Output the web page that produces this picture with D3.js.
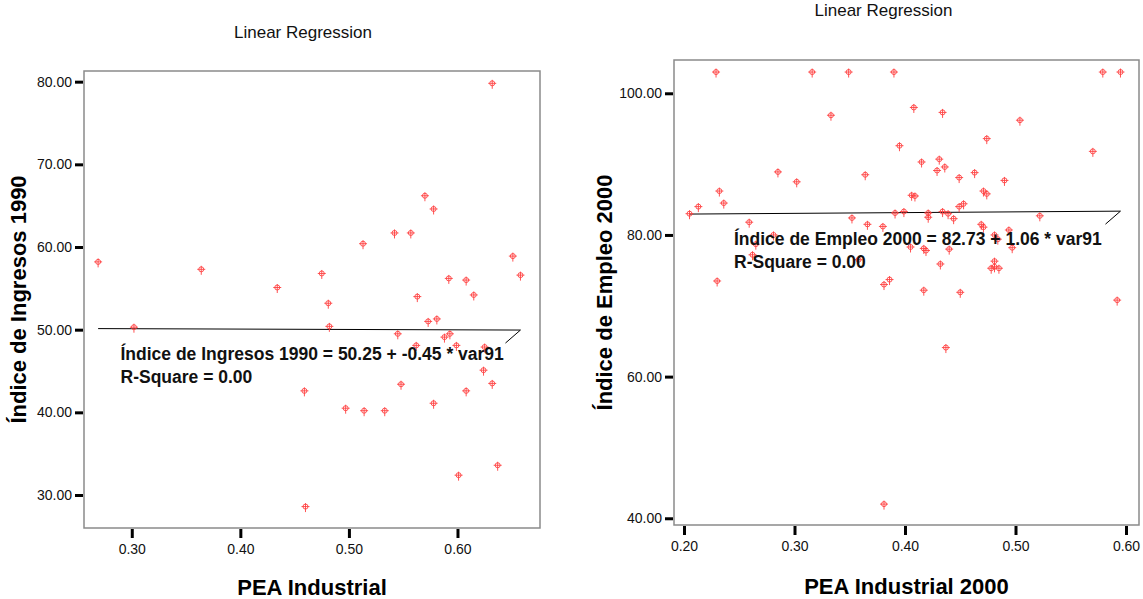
<!DOCTYPE html>
<html>
<head>
<meta charset="utf-8">
<script src="https://cdn.jsdelivr.net/npm/d3@7"></script>
<style>
  html, body { margin: 0; padding: 0; background: #fff; }
  svg { display: block; }
  text { font-family: "Liberation Sans", Arial, sans-serif; }
</style>
</head>
<body>
<svg id="chart" width="1143" height="599"></svg>
<script>
// ---- Panel 1: Índice de Ingresos 1990 vs PEA Industrial ----
const ingresosX = [0.269, 0.302, 0.364, 0.434, 0.459, 0.460, 0.475, 0.481, 0.482, 0.497,
                   0.513, 0.514, 0.533, 0.542, 0.545, 0.548, 0.557, 0.562, 0.563, 0.570,
                   0.573, 0.578, 0.578, 0.581, 0.588, 0.592, 0.593, 0.599, 0.601, 0.608,
                   0.608, 0.615, 0.624, 0.625, 0.632, 0.632, 0.637, 0.651, 0.658];
const ingresosY = [58.2, 50.3, 57.3, 55.1, 42.6, 28.6, 56.8, 53.2, 50.4, 40.5,
                   60.4, 40.2, 40.2, 61.7, 49.5, 43.4, 61.7, 48.1, 54.0, 66.2,
                   51.0, 64.6, 41.1, 51.3, 49.1, 56.2, 49.5, 48.1, 32.4, 56.0,
                   42.6, 54.2, 45.1, 47.9, 79.8, 43.5, 33.6, 58.9, 56.6];
const ingresosXTicks = [0.30, 0.40, 0.50, 0.60];
const ingresosYTicks = [30, 40, 50, 60, 70, 80];
const ingresosFit = { intercept: 50.25, slope: -0.45 };

// ---- Panel 2: Índice de Empleo 2000 vs PEA Industrial 2000 ----
const empleoX = [0.205, 0.213, 0.229, 0.230, 0.232, 0.236, 0.259, 0.262, 0.265, 0.281,
                 0.285, 0.302, 0.316, 0.333, 0.349, 0.352, 0.358, 0.364, 0.366, 0.380,
                 0.381, 0.381, 0.386, 0.390, 0.391, 0.395, 0.399, 0.405, 0.406, 0.408,
                 0.409, 0.415, 0.417, 0.417, 0.419, 0.421, 0.421, 0.429, 0.431, 0.432,
                 0.434, 0.434, 0.436, 0.437, 0.439, 0.440, 0.444, 0.449, 0.449, 0.450,
                 0.453, 0.463, 0.469, 0.471, 0.471, 0.474, 0.474, 0.478, 0.481, 0.481,
                 0.481, 0.484, 0.485, 0.490, 0.494, 0.497, 0.504, 0.522, 0.570, 0.579,
                 0.592, 0.595];
const empleoY = [83.0, 84.0, 103.0, 73.5, 86.2, 84.5, 81.8, 77.2, 78.7, 80.0,
                 88.9, 87.5, 103.0, 96.9, 103.0, 82.4, 76.5, 88.5, 81.5, 81.2,
                 73.0, 42.0, 73.7, 103.0, 83.1, 92.6, 83.3, 78.3, 85.6, 98.0,
                 85.5, 90.3, 78.1, 72.2, 77.8, 83.1, 82.5, 89.1, 90.7, 75.9,
                 97.3, 83.3, 89.6, 64.1, 83.0, 78.0, 82.3, 88.1, 84.0, 71.9,
                 84.4, 88.8, 81.5, 86.2, 81.1, 93.6, 85.8, 75.3, 80.0, 76.3,
                 75.5, 79.4, 75.3, 87.7, 80.7, 78.2, 96.2, 82.7, 91.8, 103.0,
                 70.8, 103.0];
const empleoXTicks = [0.20, 0.30, 0.40, 0.50, 0.60];
const empleoYTicks = [40, 60, 80, 100];
const empleoFit = { intercept: 82.73, slope: 1.06 };

const svg = d3.select("#chart");
const markerColor = "#ff4040";

// SPSS-style scatter marker: small circle with a cross, stem longer below
const markerPath = "M-4,0H4M0,-3.5V5.5M2.5,0A2.5,2.5 0 1,1 -2.5,0A2.5,2.5 0 1,1 2.5,0";

function drawPanel(cfg) {
  const g = svg.append("g");
  const x = d3.scaleLinear().domain(cfg.xDomain).range([cfg.left, cfg.right]);
  const y = d3.scaleLinear().domain(cfg.yDomain).range([cfg.bottom, cfg.top]);

  // title
  g.append("text")
    .attr("x", cfg.titleX).attr("y", cfg.titleY)
    .attr("text-anchor", "middle")
    .attr("font-size", 17).attr("fill", "#111")
    .text("Linear Regression");

  // frame
  g.append("rect")
    .attr("x", cfg.left).attr("y", cfg.top)
    .attr("width", cfg.right - cfg.left).attr("height", cfg.bottom - cfg.top)
    .attr("fill", "none").attr("stroke", "#8a8a8a").attr("stroke-width", 1.5);

  // axes
  const yAxis = g.append("g")
    .attr("transform", `translate(${cfg.left - 1},0)`)
    .call(d3.axisLeft(y).tickValues(cfg.yTicks).tickSize(8).tickPadding(3).tickFormat(d3.format(".2f")));
  const xAxis = g.append("g")
    .attr("transform", `translate(0,${cfg.bottom + 1})`)
    .call(d3.axisBottom(x).tickValues(cfg.xTicks).tickSize(9).tickPadding(6).tickFormat(d3.format(".2f")));
  [xAxis, yAxis].forEach(a => {
    a.select(".domain").remove();
    a.selectAll(".tick line").attr("stroke", "#000").attr("stroke-width", 3);
    a.selectAll(".tick text").attr("fill", "#111").attr("font-size", 14)
      .attr("font-family", "'Liberation Sans', Arial, sans-serif");
  });

  // axis titles
  g.append("text")
    .attr("x", (cfg.left + cfg.right) / 2).attr("y", cfg.xTitleY)
    .attr("text-anchor", "middle").attr("font-size", 22).attr("font-weight", "bold")
    .attr("fill", "#000")
    .text(cfg.xTitle);
  g.append("text")
    .attr("transform", `translate(${cfg.yTitleX},${(cfg.top + cfg.bottom) / 2}) rotate(-90)`)
    .attr("text-anchor", "middle").attr("font-size", 22).attr("font-weight", "bold")
    .attr("fill", "#000")
    .text(cfg.yTitle);

  // fitted line over the observed x range
  const xMin = d3.min(cfg.xs), xMax = d3.max(cfg.xs);
  const fitY = v => cfg.fit.intercept + cfg.fit.slope * v;
  g.append("line")
    .attr("x1", x(xMin)).attr("y1", y(fitY(xMin)))
    .attr("x2", x(xMax)).attr("y2", y(fitY(xMax)))
    .attr("stroke", "#000").attr("stroke-width", 1);

  // leader from line end to equation label
  g.append("line")
    .attr("x1", x(xMax)).attr("y1", y(fitY(xMax)))
    .attr("x2", x(xMax) - 15).attr("y2", y(fitY(xMax)) + 13)
    .attr("stroke", "#000").attr("stroke-width", 1);

  // points
  const pts = cfg.xs.map((v, i) => [v, cfg.ys[i]]);
  g.append("g").selectAll("path").data(pts).join("path")
    .attr("transform", d => `translate(${x(d[0])},${y(d[1])})`)
    .attr("d", markerPath)
    .attr("fill", "none").attr("stroke", markerColor).attr("stroke-width", 1)
    .attr("stroke-opacity", 0.9);

  // equation label (SPSS prints a plain hyphen before negative coefficients)
  const fmt = v => v.toFixed(2);
  const eq = g.append("text")
    .attr("font-size", 17.5).attr("font-weight", "bold").attr("fill", "#111");
  eq.append("tspan").attr("x", cfg.labelX).attr("y", cfg.labelY)
    .text(`${cfg.yTitle} = ${fmt(cfg.fit.intercept)} + ${fmt(cfg.fit.slope)} * var91`);
  eq.append("tspan").attr("x", cfg.labelX).attr("y", cfg.labelY + 22.5)
    .text("R-Square = 0.00");
}

drawPanel({
  left: 84, right: 540, top: 71, bottom: 528,
  xDomain: [0.256, 0.676], yDomain: [26.01, 81.29],
  xTicks: ingresosXTicks, yTicks: ingresosYTicks,
  xs: ingresosX, ys: ingresosY, fit: ingresosFit,
  xTitle: "PEA Industrial", yTitle: "Índice de Ingresos 1990",
  titleX: 303, titleY: 38, xTitleY: 595, yTitleX: 26,
  labelX: 120.5, labelY: 360
});

drawPanel({
  left: 674, right: 1139, top: 60, bottom: 525,
  xDomain: [0.19095, 0.61176], yDomain: [39.05, 104.70],
  xTicks: empleoXTicks, yTicks: empleoYTicks,
  xs: empleoX, ys: empleoY, fit: empleoFit,
  xTitle: "PEA Industrial 2000", yTitle: "Índice de Empleo 2000",
  titleX: 883.5, titleY: 16, xTitleY: 594, yTitleX: 612,
  labelX: 734, labelY: 245
});
</script>
</body>
</html>
